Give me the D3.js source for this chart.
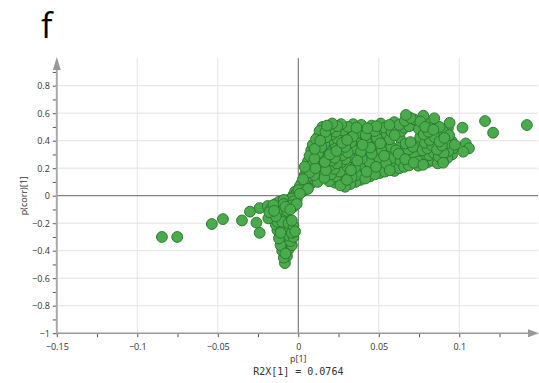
<!DOCTYPE html>
<html>
<head>
<meta charset="utf-8">
<script src="https://cdn.jsdelivr.net/npm/d3@7"></script>
<style>
  body { margin: 0; background: #fff; }
  text { font-family: "Open Sans", "Noto Sans", sans-serif; fill: #333; }
</style>
</head>
<body>
<div id="chart"></div>
<script>
// tick values
const xTicks = [-0.15, -0.1, -0.05, 0, 0.05, 0.1];
const xMinor = [-0.125, -0.075, -0.025, 0.025, 0.075, 0.125];
const yTicks = [-1, -0.8, -0.6, -0.4, -0.2, 0, 0.2, 0.4, 0.6, 0.8];
const yMinor = [-0.9, -0.7, -0.5, -0.3, -0.1, 0.1, 0.3, 0.5, 0.7, 0.9];

// loadings p[1] vs p(corr)[1]
const outliers = [
  [-0.0847, -0.30], [-0.0752, -0.30], [-0.0537, -0.206], [-0.0468, -0.17],
  [-0.035, -0.18], [-0.030, -0.116], [-0.024, -0.09], [-0.026, -0.196],
  [-0.024, -0.27], [-0.0186, -0.165], [-0.0155, -0.068], [-0.0083, -0.49],
  [0.142, 0.514], [0.116, 0.543], [0.121, 0.458], [0.102, 0.495], [0.094, 0.53],
  [0.104, 0.38], [0.106, 0.345], [0.1025, 0.32], [0.09, 0.24], [0.0669, 0.587],
  [0.0777, 0.582], [0.0845, 0.563], [0.0745, 0.218]
];

const negCluster = [
  [-0.019, -0.075], [-0.017, -0.095], [-0.015, -0.11], [-0.013, -0.09], [-0.012, -0.13],
  [-0.010, -0.10], [-0.009, -0.06], [-0.008, -0.08], [-0.007, -0.05], [-0.006, -0.03],
  [-0.005, -0.06], [-0.004, -0.02], [-0.003, -0.04], [-0.002, -0.01], [-0.001, -0.03],
  [-0.011, -0.07], [-0.016, -0.13], [-0.014, -0.15], [-0.018, -0.12], [-0.015, -0.17],
  [-0.011, -0.16], [-0.009, -0.12], [-0.006, -0.09], [-0.004, -0.07], [-0.002, -0.05],
  [-0.008, -0.14], [-0.013, -0.19], [-0.010, -0.19], [-0.007, -0.11], [-0.005, -0.10],
  [-0.003, -0.08], [-0.014, -0.06], [-0.012, -0.045], [-0.009, -0.03], [-0.001, -0.06],
  [-0.012, -0.22], [-0.010, -0.24], [-0.008, -0.21], [-0.006, -0.20], [-0.004, -0.18],
  [-0.011, -0.27], [-0.009, -0.29], [-0.007, -0.26], [-0.005, -0.24], [-0.003, -0.22],
  [-0.012, -0.31], [-0.010, -0.33], [-0.008, -0.31], [-0.006, -0.29], [-0.004, -0.27],
  [-0.011, -0.36], [-0.009, -0.38], [-0.007, -0.35], [-0.005, -0.33], [-0.003, -0.30],
  [-0.010, -0.40], [-0.008, -0.42], [-0.006, -0.39], [-0.004, -0.36], [-0.007, -0.44],
  [-0.009, -0.45], [-0.002, -0.26], [-0.013, -0.25], [-0.014, -0.21]
];

const band = [
  [-0.003, 0.005], [-0.001, 0.02], [0.000, 0.04], [0.001, 0.015], [0.002, 0.06],
  [0.003, 0.035], [0.002, 0.09], [0.004, 0.08], [0.003, 0.12], [0.005, 0.11],
  [0.004, 0.15], [0.006, 0.14], [0.005, 0.18], [0.007, 0.17], [0.004, 0.21],
  [0.008, 0.20], [0.006, 0.25], [0.009, 0.24], [0.007, 0.29], [0.010, 0.27],
  [0.008, 0.33], [0.011, 0.30], [-0.002, 0.03], [0.001, 0.07], [0.006, 0.05],
  [0.008, 0.09], [0.010, 0.12], [0.012, 0.10], [0.009, 0.37], [0.011, 0.41]
];

const mainCloud = [
  [0.0102, 0.34], [0.0117, 0.38], [0.0124, 0.43], [0.0132, 0.47], [0.0099, 0.15], [0.0106, 0.20],
  [0.0141, 0.16], [0.0127, 0.22], [0.0139, 0.265], [0.0124, 0.31], [0.0143, 0.355], [0.0136, 0.40], [0.0147, 0.45], [0.0150, 0.50],
  [0.0162, 0.13], [0.0171, 0.185], [0.0165, 0.245], [0.0158, 0.285], [0.0176, 0.325], [0.0162, 0.375], [0.0173, 0.425], [0.0169, 0.465], [0.0178, 0.51],
  [0.0192, 0.105], [0.0203, 0.155], [0.0195, 0.215], [0.0208, 0.255], [0.0196, 0.30], [0.0201, 0.345], [0.0193, 0.405], [0.0209, 0.445], [0.0197, 0.485], [0.0211, 0.525],
  [0.0228, 0.095], [0.0236, 0.14], [0.0224, 0.195], [0.0239, 0.235], [0.0227, 0.275], [0.0237, 0.325], [0.0229, 0.375], [0.0241, 0.415], [0.0232, 0.465], [0.0243, 0.505],
  [0.0262, 0.075], [0.0271, 0.125], [0.0258, 0.175], [0.0269, 0.245], [0.0276, 0.295], [0.0256, 0.335], [0.0273, 0.385], [0.0264, 0.435], [0.0279, 0.475], [0.0266, 0.52],
  [0.0291, 0.065], [0.0302, 0.115], [0.0289, 0.16], [0.0304, 0.215], [0.0293, 0.265], [0.0307, 0.315], [0.0292, 0.355], [0.0303, 0.405], [0.0294, 0.455], [0.0309, 0.50],
  [0.0324, 0.085], [0.0331, 0.135], [0.0327, 0.185], [0.0338, 0.235], [0.0322, 0.28], [0.0335, 0.34], [0.0329, 0.39], [0.0339, 0.43], [0.0325, 0.48], [0.0341, 0.52],
  [0.0356, 0.10], [0.0364, 0.15], [0.0352, 0.205], [0.0367, 0.255], [0.0358, 0.30], [0.0369, 0.36], [0.0355, 0.41], [0.0366, 0.455], [0.0361, 0.495],
  [0.0386, 0.115], [0.0396, 0.165], [0.0383, 0.225], [0.0394, 0.27], [0.0389, 0.32], [0.0399, 0.37], [0.0385, 0.425], [0.0397, 0.47], [0.0391, 0.515],
  [0.0416, 0.125], [0.0424, 0.175], [0.0418, 0.235], [0.0428, 0.285], [0.0413, 0.335], [0.0426, 0.385], [0.0419, 0.44], [0.0429, 0.49],
  [0.0445, 0.14], [0.0452, 0.195], [0.0441, 0.245], [0.0456, 0.305], [0.0447, 0.35], [0.0458, 0.40], [0.0444, 0.46], [0.0455, 0.51],
  [0.0476, 0.155], [0.0483, 0.21], [0.0472, 0.265], [0.0487, 0.315], [0.0479, 0.365], [0.0488, 0.42], [0.0474, 0.47], [0.0485, 0.505],
  [0.0506, 0.165], [0.0514, 0.215], [0.0502, 0.275], [0.0517, 0.325], [0.0509, 0.38], [0.0519, 0.43], [0.0504, 0.48], [0.0512, 0.525],
  [0.0538, 0.175], [0.0545, 0.235], [0.0533, 0.29], [0.0547, 0.345], [0.0539, 0.40], [0.0549, 0.45], [0.0536, 0.495],
  [0.0568, 0.185], [0.0574, 0.245], [0.0563, 0.30], [0.0577, 0.355], [0.0569, 0.41], [0.0579, 0.465], [0.0566, 0.515],
  [0.0597, 0.18], [0.0605, 0.225], [0.0594, 0.275], [0.0607, 0.33], [0.0599, 0.44], [0.0609, 0.485], [0.0596, 0.535],
  [0.0627, 0.20], [0.0634, 0.255], [0.0623, 0.305], [0.0637, 0.365], [0.0629, 0.425], [0.0639, 0.47], [0.0626, 0.515],
  [0.0657, 0.21], [0.0664, 0.265], [0.0653, 0.325], [0.0667, 0.38], [0.0659, 0.495], [0.0662, 0.545],
  [0.0687, 0.22], [0.0694, 0.275], [0.0683, 0.335], [0.0697, 0.39], [0.0689, 0.505], [0.0698, 0.565],
  [0.0717, 0.24], [0.0724, 0.295], [0.0713, 0.355], [0.0727, 0.52], [0.0719, 0.555],
  [0.0746, 0.25], [0.0753, 0.305], [0.0742, 0.365], [0.0757, 0.425], [0.0749, 0.485], [0.0758, 0.54],
  [0.0776, 0.225], [0.0783, 0.275], [0.0772, 0.33], [0.0787, 0.385], [0.0779, 0.445], [0.0788, 0.50],
  [0.0806, 0.245], [0.0813, 0.295], [0.0802, 0.345], [0.0817, 0.405], [0.0809, 0.465], [0.0818, 0.525],
  [0.0836, 0.255], [0.0843, 0.31], [0.0832, 0.365], [0.0847, 0.425], [0.0839, 0.48], [0.0848, 0.515],
  [0.0866, 0.235], [0.0873, 0.285], [0.0862, 0.335], [0.0877, 0.395], [0.0869, 0.455], [0.0878, 0.50],
  [0.0896, 0.255], [0.0903, 0.31], [0.0892, 0.365], [0.0907, 0.42], [0.0899, 0.47],
  [0.0926, 0.275], [0.0933, 0.325], [0.0922, 0.38], [0.0937, 0.44], [0.0929, 0.49],
  [0.0955, 0.30], [0.0962, 0.345], [0.0951, 0.40], [0.0972, 0.37]
];

const allPoints = outliers.concat(negCluster, band, mainCloud);
// mix the drawing order so overlaps look irregular
const n = allPoints.length;
const points = allPoints.map((d, i) => ({ d: d, k: (i * 61) % n }))
  .sort((a, b) => a.k - b.k)
  .map(o => o.d);

const width = 539, height = 383;
const svg = d3.select('#chart').append('svg')
  .attr('width', width).attr('height', height);

const x = d3.scaleLinear().domain([-0.15, 0.1489]).range([56.8, 538]);
const y = d3.scaleLinear().domain([-1, 1]).range([333.2, 58.2]);

// grid
svg.append('g').selectAll('line').data(xTicks.filter(d => d !== 0 && d !== -0.15)).enter()
  .append('line')
  .attr('x1', d => x(d)).attr('x2', d => x(d))
  .attr('y1', y(1)).attr('y2', y(-1))
  .attr('stroke', '#e3e3e3');
svg.append('g').selectAll('line').data(yTicks.filter(d => d !== 0 && d !== -1)).enter()
  .append('line')
  .attr('x1', x(-0.15)).attr('x2', x(0.1489))
  .attr('y1', d => y(d)).attr('y2', d => y(d))
  .attr('stroke', '#e3e3e3');

// zero lines
svg.append('line')
  .attr('x1', x(-0.15)).attr('x2', x(0.1489))
  .attr('y1', y(0)).attr('y2', y(0))
  .attr('stroke', '#666');
svg.append('line')
  .attr('x1', x(0)).attr('x2', x(0))
  .attr('y1', y(1)).attr('y2', y(-1))
  .attr('stroke', '#666');

// axes
const xAxis = svg.append('g')
  .attr('transform', 'translate(0,' + y(-1) + ')')
  .call(d3.axisBottom(x).tickValues(xTicks).tickSize(4).tickFormat(d3.format('')));
const xAxisMinor = svg.append('g')
  .attr('transform', 'translate(0,' + y(-1) + ')')
  .call(d3.axisBottom(x).tickValues(xMinor).tickSize(4).tickFormat(''));
const yAxis = svg.append('g')
  .attr('transform', 'translate(' + x(-0.15) + ',0)')
  .call(d3.axisLeft(y).tickValues(yTicks).tickSize(4).tickFormat(d3.format('')));
const yAxisMinor = svg.append('g')
  .attr('transform', 'translate(' + x(-0.15) + ',0)')
  .call(d3.axisLeft(y).tickValues(yMinor).tickSize(4).tickFormat(''));

[xAxis, xAxisMinor, yAxis, yAxisMinor].forEach(g => {
  g.select('.domain').remove();
  g.selectAll('.tick line').attr('stroke', '#555');
  g.selectAll('.tick text').attr('font-size', 9).attr('fill', '#333')
    .attr('font-family', '"Open Sans", sans-serif');
});
xAxis.selectAll('.tick text').attr('dy', '1.05em');

// axis lines with arrows
svg.append('line')
  .attr('x1', x(-0.15)).attr('x2', 530)
  .attr('y1', y(-1)).attr('y2', y(-1))
  .attr('stroke', '#999').attr('stroke-width', 1.5);
svg.append('path')
  .attr('d', 'M528,' + (y(-1) - 4) + 'L539,' + y(-1) + 'L528,' + (y(-1) + 4) + 'Z')
  .attr('fill', '#999');
svg.append('line')
  .attr('x1', x(-0.15)).attr('x2', x(-0.15))
  .attr('y1', y(-1)).attr('y2', 66)
  .attr('stroke', '#aaa').attr('stroke-width', 2);
svg.append('path')
  .attr('d', 'M' + (x(-0.15) - 4) + ',70L' + x(-0.15) + ',57L' + (x(-0.15) + 4) + ',70Z')
  .attr('fill', '#999');

// points
svg.append('g').selectAll('circle').data(points).enter()
  .append('circle')
  .attr('cx', d => x(d[0]))
  .attr('cy', d => y(d[1]))
  .attr('r', 5.4)
  .attr('fill', '#4aab4c')
  .attr('stroke', '#2d7a2f')
  .attr('stroke-width', 1);

// labels
svg.append('text')
  .attr('x', 41).attr('y', 38)
  .attr('font-size', 34)
  .style('fill', '#000')
  .text('f');
svg.append('text')
  .attr('transform', 'translate(24,' + y(0) + ') rotate(-90)')
  .attr('text-anchor', 'middle')
  .attr('dy', '0.35em')
  .attr('font-size', 9)
  .text('p(corr)[1]');
svg.append('text')
  .attr('x', x(0)).attr('y', 362)
  .attr('text-anchor', 'middle')
  .attr('font-size', 9)
  .text('p[1]');
svg.append('text')
  .attr('x', x(0)).attr('y', 375)
  .attr('text-anchor', 'middle')
  .attr('font-size', 10)
  .style('font-family', '"DejaVu Sans Mono", monospace')
  .text('R2X[1] = 0.0764');
</script>
</body>
</html>
